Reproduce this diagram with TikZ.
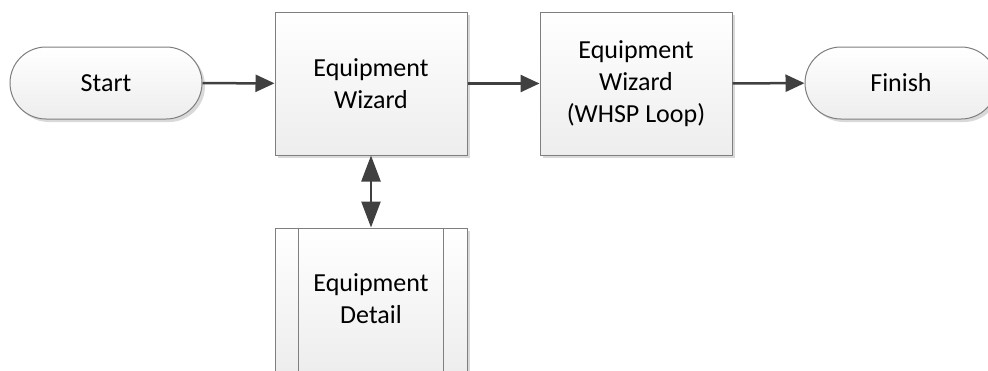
\documentclass[tikz,border=0pt]{standalone}
\usepackage{fontspec}
\setmainfont{Carlito}
\usetikzlibrary{shapes.misc,arrows.meta,shadows,calc}
\definecolor{edge}{HTML}{7F7F7F}
\definecolor{flow}{HTML}{404040}
\definecolor{shade}{HTML}{D9D9D9}
\tikzset{
  x=1pt, y=-1pt,
  every node/.style={font=\fontsize{26}{32}\selectfont, text=black, align=center, inner sep=0pt},
  boxfill/.style={top color=white, bottom color=black!7, draw=edge, line width=1pt,
    drop shadow={shadow xshift=3pt, shadow yshift=-3pt, fill=shade, opacity=1}},
  procbox/.style={boxfill, rectangle, minimum width=192pt, minimum height=143pt},
  termbox/.style={boxfill, rounded rectangle, minimum width=192pt, minimum height=72pt},
  flowline/.style={draw=flow, line width=2.5pt, -{Triangle[length=19pt,width=17pt]}},
  twoway/.style={draw=flow, line width=2.5pt, {Triangle[length=26pt,width=19pt]}-{Triangle[length=26pt,width=19pt]}}
}
\begin{document}
\begin{tikzpicture}
\useasboundingbox (0,0) rectangle (988,370);
\fill[white] (0,0) rectangle (988,370);

% terminators
\node[termbox] (start) at (106,83) {Start};
\node[termbox] (finish) at (901,83) {Finish};

% process steps
\node[procbox] (wiz) at (371,83.5) {Equipment\\Wizard};
\node[procbox] (loop) at (636,83.5) {Equipment\\Wizard\\(WHSP Loop)};

% predefined process with side bars
\node[procbox] (detail) at (371,299.5) {};
\draw[edge, line width=1pt] ($(detail.north west)+(24,0)$) -- ($(detail.south west)+(24,0)$);
\draw[edge, line width=1pt] ($(detail.north east)+(-24,0)$) -- ($(detail.south east)+(-24,0)$);
\node at (371,299) {Equipment\\Detail};

% connectors
\draw[flowline] (start) -- (wiz);
\draw[flowline] (wiz) -- (loop);
\draw[flowline] (loop) -- (finish);
\draw[twoway] (wiz) -- (detail);
\end{tikzpicture}
\end{document}
